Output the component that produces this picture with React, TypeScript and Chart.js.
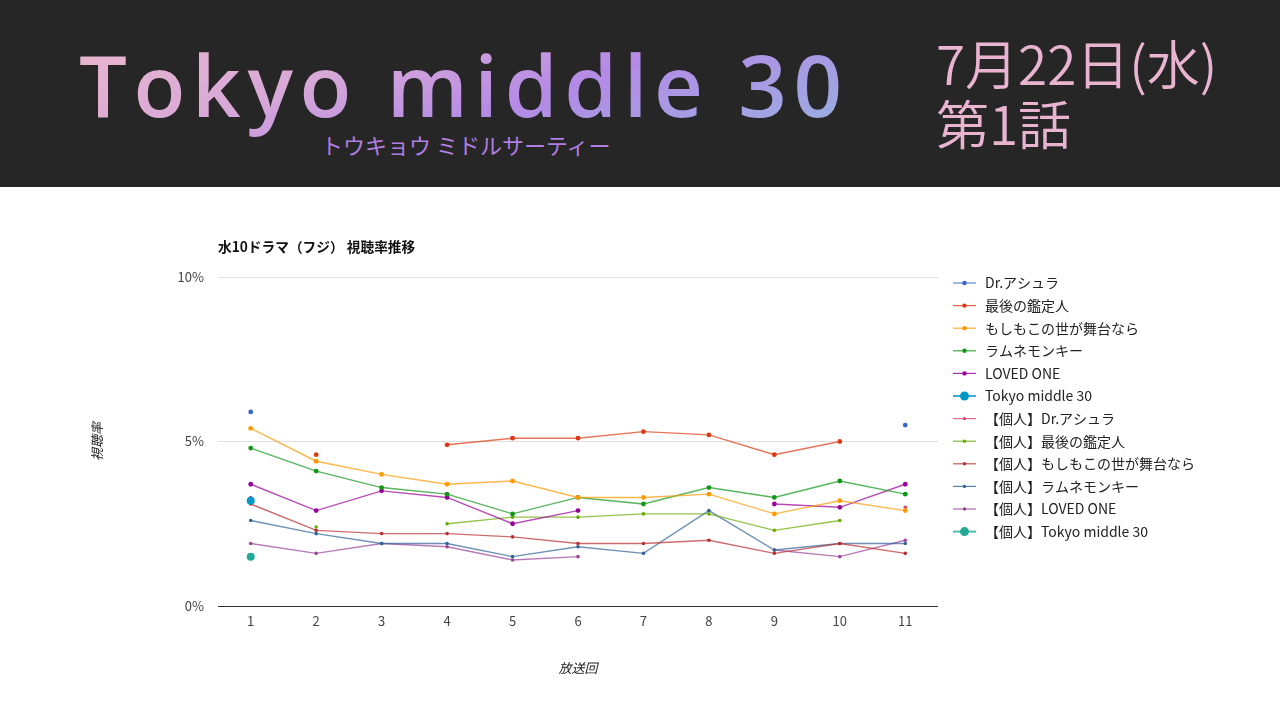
import { useEffect, useRef } from "react";
import { Chart, registerables } from "chart.js";

Chart.register(...registerables);

const episodes = ["1", "2", "3", "4", "5", "6", "7", "8", "9", "10", "11"];

const drAsura = [5.9, null, null, null, null, null, null, null, null, null, 5.5];
const saigoKanteinin = [null, 4.6, null, 4.9, 5.1, 5.1, 5.3, 5.2, 4.6, 5.0, null];
const moshimo = [5.4, 4.4, 4.0, 3.7, 3.8, 3.3, 3.3, 3.4, 2.8, 3.2, 2.9];
const ramuneMonkey = [4.8, 4.1, 3.6, 3.4, 2.8, 3.3, 3.1, 3.6, 3.3, 3.8, 3.4];
const lovedOne = [3.7, 2.9, 3.5, 3.3, 2.5, 2.9, null, null, 3.1, 3.0, 3.7];
const tokyoMiddle = [3.2, null, null, null, null, null, null, null, null, null, null];
const pDrAsura = [3.3, null, null, null, null, null, null, null, null, null, 3.0];
const pSaigoKanteinin = [null, 2.4, null, 2.5, 2.7, 2.7, 2.8, 2.8, 2.3, 2.6, null];
const pMoshimo = [3.1, 2.3, 2.2, 2.2, 2.1, 1.9, 1.9, 2.0, 1.6, 1.9, 1.6];
const pRamuneMonkey = [2.6, 2.2, 1.9, 1.9, 1.5, 1.8, 1.6, 2.9, 1.7, 1.9, 1.9];
const pLovedOne = [1.9, 1.6, 1.9, 1.8, 1.4, 1.5, null, null, 1.7, 1.5, 2.0];
const pTokyoMiddle = [1.5, null, null, null, null, null, null, null, null, null, null];

const yTicks = [0, 5, 10];

const seriesNames = [
  "Dr.アシュラ",
  "最後の鑑定人",
  "もしもこの世が舞台なら",
  "ラムネモンキー",
  "LOVED ONE",
  "Tokyo middle 30",
  "【個人】Dr.アシュラ",
  "【個人】最後の鑑定人",
  "【個人】もしもこの世が舞台なら",
  "【個人】ラムネモンキー",
  "【個人】LOVED ONE",
  "【個人】Tokyo middle 30",
];
const seriesData = [
  drAsura, saigoKanteinin, moshimo, ramuneMonkey, lovedOne, tokyoMiddle,
  pDrAsura, pSaigoKanteinin, pMoshimo, pRamuneMonkey, pLovedOne, pTokyoMiddle,
];
const seriesColors = [
  "#3366cc", "#dc3912", "#ff9900", "#109618", "#990099", "#0099c6",
  "#dd4477", "#66aa00", "#b82e2e", "#316395", "#994499", "#22aa99",
];

const FONT = "'Noto Sans CJK JP', 'Noto Sans', sans-serif";

function alpha(hex: string, a: number) {
  const r = parseInt(hex.slice(1, 3), 16);
  const g = parseInt(hex.slice(3, 5), 16);
  const b = parseInt(hex.slice(5, 7), 16);
  return `rgba(${r},${g},${b},${a})`;
}

const overlayPlugin = {
  id: "overlay",
  afterDraw(chart: any) {
    const ctx = chart.ctx as CanvasRenderingContext2D;
    ctx.save();
    // chart title
    ctx.fillStyle = "#111";
    ctx.font = `bold 13.7px ${FONT}`;
    ctx.textAlign = "left";
    ctx.textBaseline = "middle";
    ctx.fillText("水10ドラマ（フジ） 視聴率推移", 218, 60);
    // legend
    ctx.font = `14px ${FONT}`;
    chart.data.datasets.forEach((ds: any, i: number) => {
      const y = 96 + i * 22.6;
      const big = ds.pointRadius >= 4;
      ctx.strokeStyle = ds.pointBackgroundColor;
      ctx.globalAlpha = 0.8;
      ctx.lineWidth = big ? 2 : 1.2;
      ctx.beginPath();
      ctx.moveTo(953, y);
      ctx.lineTo(976, y);
      ctx.stroke();
      ctx.globalAlpha = 1;
      ctx.fillStyle = ds.pointBackgroundColor;
      ctx.beginPath();
      ctx.arc(964.5, y, big ? 4.5 : i < 6 ? 2.2 : 1.7, 0, Math.PI * 2);
      ctx.fill();
      ctx.fillStyle = "#222";
      ctx.fillText(ds.label, 985, y);
    });
    ctx.restore();
  },
};

function ChartView() {
  const ref = useRef<HTMLCanvasElement | null>(null);
  useEffect(() => {
    if (!ref.current) return;
    const datasets = seriesNames.map((name, i) => {
      const isTokyo = i === 5 || i === 11;
      const personal = i >= 6;
      return {
        label: name,
        data: seriesData[i],
        borderColor: alpha(seriesColors[i], 0.7),
        backgroundColor: seriesColors[i],
        pointBackgroundColor: seriesColors[i],
        pointBorderWidth: 0,
        pointRadius: isTokyo ? 4 : personal ? 1.8 : 2.4,
        borderWidth: 1.4,
        tension: 0,
        spanGaps: false,
      };
    });
    const chart = new Chart(ref.current, {
      type: "line",
      data: { labels: episodes, datasets },
      plugins: [overlayPlugin],
      options: {
        animation: false,
        responsive: false,
        maintainAspectRatio: false,
        layout: { padding: { top: 90, right: 342, bottom: 0, left: 0 } },
        plugins: {
          legend: { display: false },
          title: { display: false },
          tooltip: { enabled: false },
        },
        scales: {
          x: {
            type: "category",
            offset: true,
            grid: { display: false, drawTicks: false },
            border: { display: false },
            ticks: { color: "#444", font: { family: FONT, size: 13 }, padding: 7, maxRotation: 0 },
            title: {
              display: true,
              text: "放送回",
              color: "#222",
              font: { family: FONT, size: 13, style: "italic" },
              padding: { top: 0, bottom: 44 },
            },
            afterFit: (s: any) => { s.height = 114; },
          },
          y: {
            min: 0,
            max: 10,
            afterBuildTicks: (s: any) => { s.ticks = yTicks.map((v) => ({ value: v })); },
            grid: {
              drawTicks: false,
              color: (c: any) => (c.tick && c.tick.value === 0 ? "#333" : "#e0e0e0"),
              lineWidth: 1,
            },
            border: { display: false },
            ticks: {
              color: "#444",
              font: { family: FONT, size: 13 },
              padding: 14,
              callback: (v: any) => `${v}%`,
            },
            title: {
              display: true,
              text: "視聴率",
              color: "#222",
              font: { family: FONT, size: 13, style: "italic" },
              padding: { top: 89, bottom: 0 },
            },
            afterFit: (s: any) => { s.width = 218; },
          },
        },
      } as any,
    });
    return () => chart.destroy();
  }, []);
  return <canvas ref={ref} width={1280} height={533} style={{ display: "block", width: 1280, height: 533 }} />;
}

export default function App() {
  return (
    <div style={{ position: "absolute", left: 0, top: 0, width: 1280, height: 720, background: "#fff", overflow: "hidden" }}>
      <div style={{ position: "absolute", left: 0, top: 0, width: 1280, height: 187, background: "#262626" }}>
        <div
          style={{
            position: "absolute",
            left: 79,
            top: 29,
            fontFamily: "'Open Sans', 'Noto Sans', sans-serif",
            fontSize: 85,
            fontWeight: 600,
            lineHeight: "110px",
            letterSpacing: 6.6,
            whiteSpace: "nowrap",
            background: "linear-gradient(160deg, #ecb8cc 0%, #d8a8d8 35%, #b48ae6 60%, #96b2e0 100%)",
            WebkitBackgroundClip: "text",
            backgroundClip: "text",
            color: "transparent",
          }}
        >
          Tokyo middle 30
        </div>
        <div
          style={{
            position: "absolute",
            left: 321,
            top: 129,
            fontFamily: FONT,
            fontSize: 22,
            lineHeight: "30px",
            color: "#b07ee0",
            whiteSpace: "nowrap",
          }}
        >
          トウキョウ ミドルサーティー
        </div>
        <div
          style={{
            position: "absolute",
            left: 936,
            top: 32,
            fontFamily: FONT,
            fontSize: 53,
            fontWeight: 350,
            lineHeight: "60px",
            color: "#e8b4d0",
            whiteSpace: "nowrap",
          }}
        >
          7月22日(水)
          <br />
          第1話
        </div>
      </div>
      <div style={{ position: "absolute", left: 0, top: 187 }}>
        <ChartView />
      </div>
    </div>
  );
}
